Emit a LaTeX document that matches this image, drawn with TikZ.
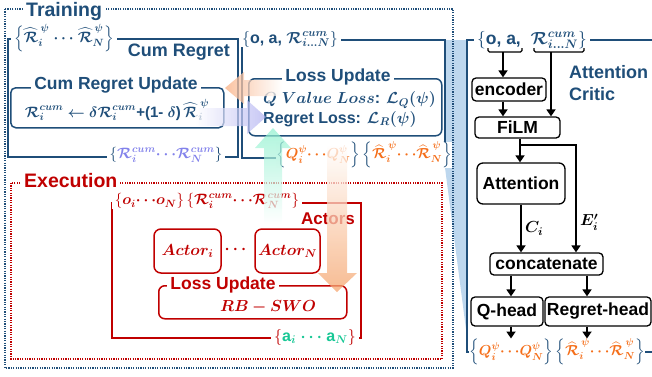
\documentclass[tikz,border=0pt]{standalone}
\usepackage{fix-cm}
\usepackage{amsmath}
\usepackage{bm}
\usepackage{fontspec}
\setmainfont{Liberation Sans}
\usetikzlibrary{arrows.meta,calc}
\definecolor{navy}{RGB}{31,78,121}
\definecolor{dred}{RGB}{192,0,0}
\definecolor{orng}{RGB}{245,110,25}
\definecolor{lav}{RGB}{130,130,235}
\definecolor{mint}{RGB}{25,200,150}
\definecolor{wedgec}{RGB}{189,215,238}
\definecolor{orangeA}{RGB}{248,175,130}
\definecolor{lavA}{RGB}{175,175,240}
\definecolor{mintA}{RGB}{140,240,205}
\definecolor{orangeB}{RGB}{245,165,110}
\newcommand\Rc{\mathcal{R}}
\newcommand\Rh{\widehat{\mathcal{R}}}
\newcommand\fsz[1]{\bfseries\fontsize{#1}{#1}\selectfont}
\begin{document}
\begin{tikzpicture}[x=1pt,y=-1pt,
  every node/.style={font=\bfseries, inner sep=1pt},
  navyln/.style={draw=navy, line width=1.5pt},
  redln/.style={draw=dred, line width=1.5pt},
  lbl/.style={fill=white, inner xsep=3pt, inner ysep=0pt},
  cbox/.style={draw=black, line width=1.3pt, rounded corners=4pt, inner sep=0pt, font=\fsz{17.5}},
  arr/.style={line width=2.3pt, -{Triangle[length=7pt,width=9pt]}},
  dots/.style={dash pattern=on 1.2pt off 1.2pt, line width=1.2pt},
]
\useasboundingbox (0,0) rectangle (652,376);

% wedge
\fill[wedgec] (444,40) -- (467,40) -- (467,337) -- (444,160) -- cycle;

% Training frame
\draw[navy, dots] (5,9) rectangle (453,368);
\node[lbl, anchor=west, text=navy, font=\fsz{19.5}] (train) at (23,11) {Training};

% Execution frame
\draw[dred, dots] (11,183) rectangle (442,359);
\node[lbl, anchor=west, text=dred, font=\fsz{19.5}] (exec) at (21,181) {Execution};

% Cum Regret
\node[navyln, anchor=north west, minimum width=230pt, minimum height=118pt, inner sep=0pt] (crb) at (7,38) {};
\node[lbl, text=navy, font=\fsz{15}] (crtop) at (64,38) {$\left\{\bm{\Rh_i^{\,\psi}\ \cdots\ \Rh_N^{\,\psi}}\right\}$};
\node[text=navy, font=\fsz{18}] (crt) at (179,52) {Cum Regret};
\node[navyln, rounded corners=5pt, anchor=north west, minimum width=213pt, minimum height=40pt, inner sep=0pt] (cru) at (10,87) {};
\node[lbl, text=navy, font=\fsz{17.5}] (crut) at (116,85) {Cum Regret Update};
\node[text=navy, font=\fsz{15}] (form) at (117,110) {$\bm{\Rc_i^{cum} \leftarrow \delta\Rc_i^{cum}}$+(1- $\bm{\delta}$)\,$\bm{\Rh_i^{\,\psi}}$};
\node[lbl, text=navy, font=\fsz{15}] (crbot) at (166,155) {$\left\{{\color{lav}\bm{\Rc_i^{cum}\cdots\Rc_N^{cum}}}\right\}$};

% Loss Update (critic training)
\node[navyln, anchor=north west, minimum width=203pt, minimum height=118pt, inner sep=0pt] (lub) at (241,39) {};
\node[lbl, text=navy, font=\fsz{16}] (lutop) at (290,39) {$\left\{\text{o, a, }\bm{\Rc^{cum}_{i\ldots N}}\right\}$};
\node[navyln, rounded corners=6pt, anchor=north west, minimum width=193pt, minimum height=57pt, inner sep=0pt] (lui) at (248,78) {};
\node[lbl, text=navy, font=\fsz{17.5}] (luit) at (338,77) {Loss Update};
\node[anchor=west, text=navy, font=\fsz{16}] (qvl) at (262,100) {$\bm{Q\ Value\ Loss}$: $\bm{\mathcal{L}_Q(\psi)}$};
\node[anchor=west, text=navy, font=\fsz{16}] (rl) at (262,119) {Regret Loss: $\bm{\mathcal{L}_R(\psi)}$};
\node[lbl, text=navy, font=\fsz{14.5}, inner xsep=0.5pt] (lubot) at (364,155) {$\left\{{\color{orng}\bm{Q_i^{\psi}\cdots Q_N^{\psi}}}\right\}\left\{{\color{orng}\bm{\Rh_i^{\,\psi}\cdots\Rh_N^{\,\psi}}}\right\}$};

% Attention Critic
\draw[navyln] (652,40) -- (467,40) -- (467,352) -- (652,352);
\node[lbl, text=navy, font=\fsz{17.5}] (cctop) at (532,40) {$\left\{\text{o, a,}\ \ \bm{\Rc^{cum}_{i\ldots N}}\right\}$};
\draw[black, line width=1.3pt, rounded corners=1.5pt] (488,48) -- (488,52) -- (522,52) -- (522,48);
\draw[black, line width=1.3pt, rounded corners=1.5pt] (534,48) -- (534,52) -- (584,52) -- (584,48);
\coordinate (ub1) at (503,52);
\coordinate (ub2) at (551,52);
\node[text=navy, font=\bfseries\fontsize{18}{22}\selectfont, align=left, anchor=north west] (actitle) at (568,64) {Attention\\Critic};
\node[cbox, minimum width=74pt, minimum height=23pt] (enc) at (509,89.5) {encoder};
\node[cbox, minimum width=85pt, minimum height=21pt] (film) at (517.5,127.5) {FiLM};
\node[cbox, rounded corners=6pt, minimum width=88pt, minimum height=41pt] (att) at (521,183.5) {Attention};
\node[cbox, minimum width=113pt, minimum height=22pt] (cat) at (546.5,264) {concatenate};
\node[cbox, minimum width=72pt, minimum height=29pt] (qh) at (507,311.5) {Q-head};
\node[cbox, minimum width=106pt, minimum height=29pt] (rh) at (598,311.5) {Regret-head};
\node[lbl, text=navy, font=\fsz{14.5}, inner xsep=0.5pt] (ccbot) at (557,352) {$\left\{{\color{orng}\bm{Q_i^{\psi}\cdots Q_N^{\psi}}}\right\}\left\{{\color{orng}\bm{\Rh_i^{\,\psi}\cdots\Rh_N^{\,\psi}}}\right\}$};
\coordinate (fo) at (520,0);
\coordinate (br) at (520,145);
\coordinate (ebr) at (576,145);
\coordinate (cx) at (521,0);
\coordinate (qx) at (511,0);
\coordinate (rx) at (587,0);
\draw[arr] (ub1) -- (ub1 |- enc.north);
\draw[arr] (ub2) -- (ub2 |- film.north);
\draw[arr] (ub1 |- enc.south) -- (ub1 |- film.north);
\draw[arr] (fo |- film.south) -- (fo |- att.north);
\draw[arr] (br) -- (ebr) -- (ebr |- cat.north) node[pos=0.72, right=2pt, font=\fsz{16}] (elbl) {$\bm{E_i'}$};
\draw[arr] (cx |- att.south) -- (cx |- cat.north) node[midway, right=2pt, font=\fsz{16}] (clbl) {$\bm{C_i}$};
\draw[arr] (qx |- cat.south) -- (qx |- qh.north);
\draw[arr] (rx |- cat.south) -- (rx |- rh.north);
\draw[arr] (qx |- qh.south) -- (qx |- ccbot.north);
\draw[arr] (rx |- rh.south) -- (rx |- ccbot.north);

% Execution content
\node[redln, anchor=north west, minimum width=249pt, minimum height=135pt, inner sep=0pt] (actb) at (111,202) {};
\node[lbl, text=dred, font=\fsz{15}] (acttop) at (207,201) {$\left\{\bm{o_i\cdots o_N}\right\}\left\{\bm{\Rc_i^{cum}\cdots\Rc_N^{cum}}\right\}$};
\node[text=dred, font=\fsz{17}] (actlbl) at (328,219) {Actors};
\node[redln, rounded corners=7pt, minimum width=67pt, minimum height=44pt, text=dred, font=\fsz{16}] (a1) at (187.5,251) {$\bm{Actor_i}$};
\node[text=dred, font=\fsz{16}] (adots) at (237,250) {$\bm{\cdots}$};
\node[redln, rounded corners=7pt, minimum width=65pt, minimum height=44pt, text=dred, font=\fsz{16}] (aN) at (287.5,251) {$\bm{Actor_N}$};
\node[redln, rounded corners=6pt, anchor=north west, minimum width=188pt, minimum height=33pt, inner sep=0pt] (rlu) at (158,285) {};
\node[lbl, text=dred, font=\fsz{17.5}] (rlut) at (223,285) {Loss Update};
\node[text=dred, font=\fsz{16}] (rbswo) at (268,307) {$\bm{RB-SWO}$};
\node[lbl, text=dred, font=\fsz{16}] (abot) at (315,337) {$\left\{{\color{mint}\text{a}_{\bm{i}}\ \bm{\cdots}\ \text{a}_{\bm{N}}}\right\}$};

% big translucent arrows
\shade[left color=orangeA, right color=white, opacity=0.75] (225,88) -- (244,72) -- (244,80) -- (282,80) -- (282,96) -- (244,96) -- (244,104) -- cycle;
\shade[left color=white, right color=lavA, opacity=0.7] (195,108) -- (247,108) -- (247,100) -- (266,117) -- (247,134) -- (247,126) -- (195,126) -- cycle;
\shade[top color=mintA, bottom color=white, opacity=0.7] (273,128) -- (291,148) -- (282,148) -- (282,224) -- (264,224) -- (264,148) -- (255,148) -- cycle;
\shade[top color=white, bottom color=orangeB, opacity=0.75] (327,145) -- (347,145) -- (347,273) -- (357,273) -- (337,292) -- (318,273) -- (327,273) -- cycle;
\end{tikzpicture}
\end{document}
